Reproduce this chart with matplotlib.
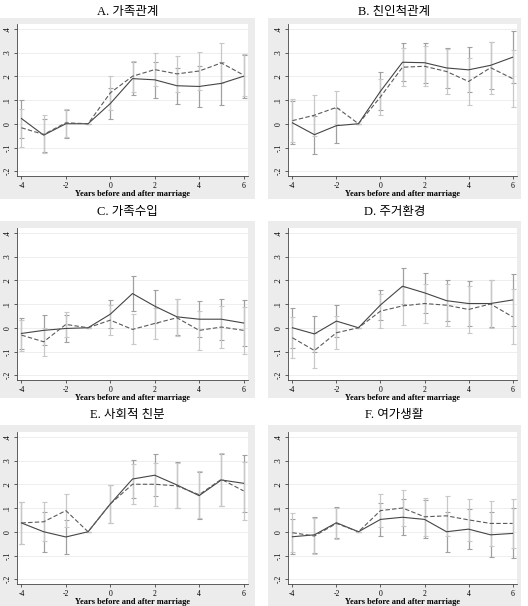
import matplotlib
matplotlib.use("Agg")
import matplotlib.pyplot as plt
from matplotlib.patches import Rectangle

# event-time axis (years relative to marriage)
years = [-4, -3, -2, -1, 0, 1, 2, 3, 4, 5, 6]

titles = ["A. 가족관계", "B. 친인척관계", "C. 가족수입",
          "D. 주거환경", "E. 사회적 친분", "F. 여가생활"]

# point estimates (solid line) and CI half widths; -1 is the reference year
a_solid = [0.022, -0.048, 0.0, 0.0, 0.085, 0.19, 0.185, 0.16, 0.157, 0.17, 0.20]
a_solid_ci = [0.08, 0.07, 0.06, 0.0, 0.065, 0.07, 0.075, 0.075, 0.085, 0.09, 0.09]
a_dash = [-0.017, -0.045, 0.004, 0.0, 0.13, 0.20, 0.228, 0.21, 0.222, 0.256, 0.205]
a_dash_ci = [0.08, 0.08, 0.06, 0.0, 0.07, 0.065, 0.07, 0.075, 0.08, 0.085, 0.09]

b_solid = [0.004, -0.046, -0.008, 0.0, 0.137, 0.259, 0.257, 0.235, 0.227, 0.246, 0.28]
b_solid_ci = [0.09, 0.08, 0.075, 0.0, 0.08, 0.08, 0.085, 0.085, 0.095, 0.10, 0.11]
b_dash = [0.013, 0.036, 0.069, 0.0, 0.113, 0.238, 0.242, 0.22, 0.178, 0.236, 0.19]
b_dash_ci = [0.09, 0.087, 0.07, 0.0, 0.075, 0.08, 0.085, 0.095, 0.10, 0.11, 0.12]

c_solid = [-0.024, -0.011, -0.003, 0.0, 0.057, 0.144, 0.091, 0.046, 0.036, 0.036, 0.02]
c_solid_ci = [0.065, 0.063, 0.055, 0.0, 0.06, 0.073, 0.07, 0.077, 0.076, 0.087, 0.096]
c_dash = [-0.031, -0.059, 0.014, 0.0, 0.032, -0.007, 0.018, 0.042, -0.011, 0.003, -0.011]
c_dash_ci = [0.065, 0.06, 0.052, 0.0, 0.062, 0.063, 0.067, 0.077, 0.083, 0.088, 0.10]

d_solid = [0.0, -0.026, 0.028, 0.0, 0.096, 0.175, 0.147, 0.114, 0.102, 0.102, 0.117]
d_solid_ci = [0.085, 0.075, 0.066, 0.0, 0.064, 0.075, 0.084, 0.086, 0.094, 0.10, 0.108]
d_dash = [-0.042, -0.096, -0.021, 0.0, 0.07, 0.092, 0.102, 0.095, 0.077, 0.10, 0.046]
d_dash_ci = [0.086, 0.074, 0.069, 0.0, 0.072, 0.08, 0.081, 0.088, 0.10, 0.10, 0.116]

e_solid = [0.037, 0.0, -0.022, 0.0, 0.117, 0.222, 0.238, 0.197, 0.152, 0.218, 0.204]
e_solid_ci = [0.09, 0.085, 0.073, 0.0, 0.08, 0.08, 0.088, 0.095, 0.10, 0.11, 0.12]
e_dash = [0.037, 0.042, 0.089, 0.0, 0.117, 0.20, 0.20, 0.193, 0.156, 0.221, 0.172]
e_dash_ci = [0.09, 0.083, 0.07, 0.0, 0.08, 0.085, 0.09, 0.095, 0.10, 0.112, 0.123]

f_solid = [-0.021, -0.013, 0.038, 0.0, 0.052, 0.061, 0.052, 0.0, 0.011, -0.013, -0.007]
f_solid_ci = [0.073, 0.077, 0.065, 0.0, 0.07, 0.075, 0.08, 0.085, 0.085, 0.095, 0.105]
f_dash = [-0.004, -0.018, 0.035, 0.0, 0.089, 0.10, 0.063, 0.067, 0.05, 0.035, 0.035]
f_dash_ci = [0.082, 0.075, 0.065, 0.0, 0.07, 0.075, 0.08, 0.085, 0.09, 0.095, 0.105]

panels = [
    (a_solid, a_solid_ci, a_dash, a_dash_ci),
    (b_solid, b_solid_ci, b_dash, b_dash_ci),
    (c_solid, c_solid_ci, c_dash, c_dash_ci),
    (d_solid, d_solid_ci, d_dash, d_dash_ci),
    (e_solid, e_solid_ci, e_dash, e_dash_ci),
    (f_solid, f_solid_ci, f_dash, f_dash_ci),
]

yticks = [-0.2, -0.1, 0, 0.1, 0.2, 0.3, 0.4]
ytick_labels = ["-.2", "-.1", "0", ".1", ".2", ".3", ".4"]
xticks = [-4, -2, 0, 2, 4, 6]

W, H = 528, 606
fig = plt.figure(figsize=(W / 100, H / 100), dpi=100)
fig.patch.set_facecolor("white")

serif_kr = ["Liberation Serif", "Noto Sans CJK KR"]

# pixel boxes per row: gray y0, gray y1, axes y0, axes y1, title y
rows = [(18, 199, 24, 176, 12), (221, 398, 228, 380, 212), (425, 606, 432, 584, 415)]
# per column: gray x0, gray x1, axes x0, axes x1
cols = [(0, 255, 17, 248), (268, 521, 288, 517)]

for i, (s, s_ci, d, d_ci) in enumerate(panels):
    gy0, gy1, ay0, ay1, ty = rows[i // 2]
    gx0, gx1, ax0, ax1 = cols[i % 2]

    # gray graph region behind the white plot region
    fig.patches.append(Rectangle((gx0 / W, 1 - gy1 / H), (gx1 - gx0) / W, (gy1 - gy0) / H,
                                 transform=fig.transFigure, facecolor="#ececec",
                                 edgecolor="none", zorder=-5))
    fig.text((gx0 + gx1) / 2 / W, 1 - ty / H, titles[i], ha="center", va="center",
             fontsize=9, family=serif_kr)

    ax = fig.add_axes([ax0 / W, 1 - ay1 / H, (ax1 - ax0) / W, (ay1 - ay0) / H])
    ax.set_zorder(1)
    ax.set_facecolor("white")

    for yt in yticks:
        ax.axhline(yt, color="#ebebeb", lw=0.6, zorder=0)

    ax.errorbar(years, s, yerr=s_ci, fmt="none", ecolor="#a0a0a0", elinewidth=0.9,
                capsize=1.8, capthick=0.8, zorder=2)
    ax.errorbar(years, d, yerr=d_ci, fmt="none", ecolor="#c8c8c8", elinewidth=0.9,
                capsize=1.8, capthick=0.8, zorder=2)
    ax.plot(years, s, color="#454545", lw=0.8, ls="-", zorder=3)
    ax.plot(years, d, color="#5a5a5a", lw=0.8, ls=(0, (4, 2)), zorder=3)

    ax.set_xlim(-4.2, 6.2)
    ax.set_ylim(-0.22, 0.42)
    ax.set_xticks(xticks)
    ax.set_xticklabels([str(x) for x in xticks], family="Liberation Serif", fontsize=5.5)
    ax.set_yticks(yticks)
    ax.set_yticklabels(ytick_labels, family="Liberation Serif", fontsize=5.5,
                       rotation=90, va="center")
    ax.tick_params(length=2.5, width=0.6, pad=1.5, color="#444444")
    ax.set_xlabel("Years before and after marriage", family="Liberation Serif",
                  fontsize=6, fontweight="bold", labelpad=0.5)

    for side in ["top", "right"]:
        ax.spines[side].set_visible(False)
    for side in ["left", "bottom"]:
        ax.spines[side].set_linewidth(0.6)
        ax.spines[side].set_color("#444444")

fig.savefig("out.png", dpi=100, facecolor=fig.get_facecolor())
